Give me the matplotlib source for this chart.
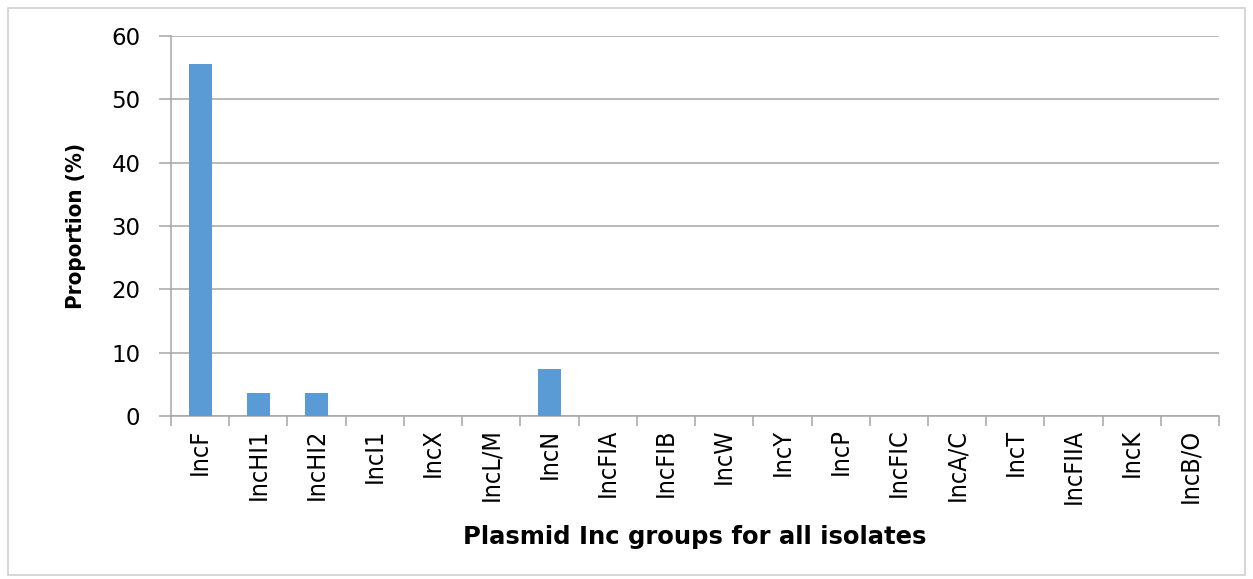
import numpy as np
import matplotlib.pyplot as plt
from matplotlib.patches import Rectangle

groups = ['IncF', 'IncHI1', 'IncHI2', 'IncI1', 'IncX', 'IncL/M', 'IncN', 'IncFIA',
          'IncFIB', 'IncW', 'IncY', 'IncP', 'IncFIC', 'IncA/C', 'IncT', 'IncFIIA',
          'IncK', 'IncB/O']
proportion = [55.6, 3.7, 3.7, 0, 0, 0, 7.4, 0, 0, 0, 0, 0, 0, 0, 0, 0, 0, 0]
y_ticks = [0, 10, 20, 30, 40, 50, 60]

grid_col = '#a6a6a6'
bar_col = '#5b9bd5'

fig = plt.figure(figsize=(12.53, 5.79), dpi=100)
fig.patches.append(Rectangle((0.006, 0.007), 0.988, 0.98, transform=fig.transFigure,
                             fill=False, edgecolor='#d0d0d0', linewidth=1.2))
ax = fig.add_axes([0.1365, 0.2815, 0.8365, 0.6563])

x = np.arange(len(groups))
ax.bar(x, proportion, width=0.4, color=bar_col, zorder=3)

ax.set_xlim(-0.5, len(groups) - 0.5)
ax.set_ylim(0, 60)
ax.set_yticks(y_ticks)
ax.set_yticklabels([str(v) for v in y_ticks], fontsize=16.5, family='DejaVu Sans')
ax.yaxis.grid(True, color=grid_col, linewidth=1.1, zorder=0)

# category labels centred, ticks on category boundaries
ax.set_xticks(x)
ax.set_xticklabels(groups, rotation=90, fontsize=18, family='DejaVu Sans',
                   fontstretch='condensed')
ax.tick_params(axis='x', length=0, pad=9)
ax.set_xticks(np.arange(len(groups) + 1) - 0.5, minor=True)
ax.tick_params(axis='x', which='minor', length=7, color=grid_col, width=1.1)
ax.tick_params(axis='y', length=9, color=grid_col, width=1.1, pad=13)

for side in ['top', 'right']:
    ax.spines[side].set_visible(False)
for side in ['left', 'bottom']:
    ax.spines[side].set_color(grid_col)
    ax.spines[side].set_linewidth(1.1)

ax.set_ylabel('Proportion (%)', fontsize=16, fontweight='bold', va='center',
              fontstretch='condensed')
ax.yaxis.set_label_coords(-0.0907, 0.5)
ax.set_xlabel('Plasmid Inc groups for all isolates', fontsize=17.5, fontweight='bold', va='center')
ax.xaxis.set_label_coords(0.5, -0.318)

fig.savefig('out.png', dpi=100)
